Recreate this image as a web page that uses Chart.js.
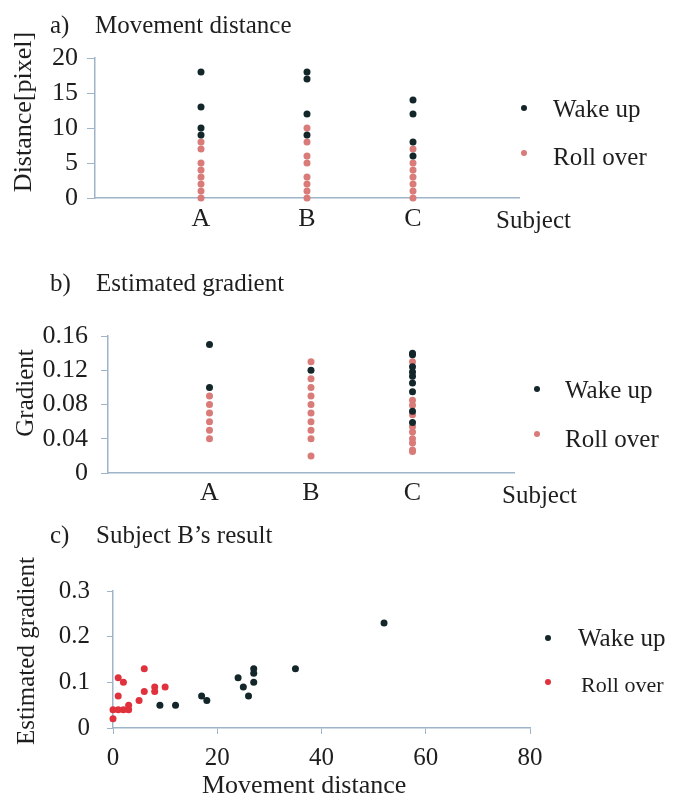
<!DOCTYPE html>
<html>
<head>
<meta charset="utf-8">
<script src="https://cdn.jsdelivr.net/npm/chart.js@4"></script>
<style>
  html, body { margin: 0; padding: 0; background: #fff; }
  #page { position: relative; width: 679px; height: 794px; overflow: hidden;
          font-family: "Liberation Serif", "DejaVu Serif", serif; color: #1e1e1e; }
  .cv { position: absolute; left: 0; }
  .t { position: absolute; white-space: nowrap; line-height: 1; font-size: 25px;
       transform: translateY(-50%); }
  .rot { position: absolute; white-space: nowrap; line-height: 1; font-size: 25px;
         transform: translate(-50%, -50%) rotate(-90deg); }
  .dot { position: absolute; width: 6px; height: 6px; border-radius: 50%;
         transform: translate(-50%, -50%); }
</style>
</head>
<body>
<div id="page">
  <canvas id="chartA" class="cv" style="top:0" width="679" height="240"></canvas>
  <canvas id="chartB" class="cv" style="top:250px" width="679" height="260"></canvas>
  <canvas id="chartC" class="cv" style="top:510px" width="679" height="284"></canvas>

  <!-- a) -->
  <div class="t" style="left:50px; top:24px">a)</div>
  <div class="t" style="left:95px; top:24px">Movement distance</div>
  <div class="rot" style="left:23px; top:112px; font-size:26px">Distance[pixel]</div>
  <div class="t" style="left:496px; top:219px">Subject</div>
  <div class="dot" style="left:524px; top:108px; background:#13262a"></div>
  <div class="t" style="left:553px; top:108px">Wake up</div>
  <div class="dot" style="left:524px; top:153px; background:#d97b78"></div>
  <div class="t" style="left:553px; top:156px">Roll over</div>

  <!-- b) -->
  <div class="t" style="left:50px; top:282px">b)</div>
  <div class="t" style="left:96px; top:282px">Estimated gradient</div>
  <div class="rot" style="left:24px; top:393px">Gradient</div>
  <div class="t" style="left:502px; top:494px">Subject</div>
  <div class="dot" style="left:537px; top:389px; background:#13262a"></div>
  <div class="t" style="left:565px; top:389px">Wake up</div>
  <div class="dot" style="left:537px; top:434px; background:#d97b78"></div>
  <div class="t" style="left:565px; top:438px">Roll over</div>

  <!-- c) -->
  <div class="t" style="left:50px; top:534px">c)</div>
  <div class="t" style="left:96px; top:534px">Subject B’s result</div>
  <div class="rot" style="left:25px; top:651px">Estimated gradient</div>
  <div class="t" style="left:202px; top:785px; font-size:26px">Movement distance</div>
  <div class="dot" style="left:548px; top:638px; background:#13262a"></div>
  <div class="t" style="left:578px; top:637px">Wake up</div>
  <div class="dot" style="left:548px; top:682px; background:#e0323c"></div>
  <div class="t" style="left:581px; top:685px; font-size:22px">Roll over</div>
</div>

<script>
const subjects = ["A", "B", "C"];

// a) movement distance per subject
const distWake = [
  [18, 13, 10, 9],
  [18, 17, 12, 9],
  [14, 12, 8, 6],
];
const distRoll = [
  [8, 7, 5, 4, 3, 2, 1, 0],
  [10, 8, 6, 5, 3, 2, 1, 0],
  [7, 5, 4, 3, 2, 1, 0],
];
const distTicks = [0, 5, 10, 15, 20];

// b) estimated gradient per subject
const gradWake = [
  [0.15, 0.10],
  [0.12],
  [0.14, 0.138, 0.124, 0.118, 0.113, 0.105, 0.095, 0.072, 0.059],
];
const gradRoll = [
  [0.09, 0.08, 0.07, 0.06, 0.05, 0.04],
  [0.13, 0.11, 0.10, 0.09, 0.08, 0.07, 0.06, 0.05, 0.04, 0.02],
  [0.13, 0.085, 0.079, 0.068, 0.054, 0.048, 0.04, 0.035, 0.027, 0.025],
];
const gradTicks = [0, 0.04, 0.08, 0.12, 0.16];

// c) subject B: movement distance vs estimated gradient
const wakeDist = [9, 12, 17, 18, 24, 25, 26, 27, 27, 27, 35, 52];
const wakeGrad = [0.05, 0.05, 0.07, 0.06, 0.11, 0.09, 0.07, 0.13, 0.12, 0.10, 0.13, 0.23];
const rollDist = [0, 0, 1, 1, 1, 2, 2, 3, 3, 5, 6, 6, 8, 8, 10];
const rollGrad = [0.02, 0.04, 0.11, 0.07, 0.04, 0.10, 0.04, 0.05, 0.04, 0.06, 0.13, 0.08, 0.09, 0.08, 0.09];
const bDistTicks = [0, 20, 40, 60, 80];
const bGradTicks = [0, 0.1, 0.2, 0.3];

const axisColor = "#9fb4c8";
const textColor = "#1e1e1e";
const wakeColor = "#13262a";
const rollPink = "#d97b78";
const rollRed = "#e0323c";

function byCategory(groups) {
  const pts = [];
  groups.forEach((vals, i) => vals.forEach((v) => pts.push({ x: i + 1, y: v })));
  return pts;
}

function pairs(xs, ys) {
  return xs.map((x, i) => ({ x: x, y: ys[i] }));
}

function ds(label, data, color) {
  return {
    label: label,
    data: data,
    backgroundColor: color,
    borderColor: color,
    pointRadius: 3.5,
    pointBorderWidth: 0,
    clip: false,
  };
}

function fixed(w) {
  return (scale) => { scale.width = w; };
}
function fixedH(h) {
  return (scale) => { scale.height = h; };
}

function makeChart(id, datasets, cfg) {
  const font = { family: "Liberation Serif", size: cfg.fontSize };
  return new Chart(document.getElementById(id), {
    type: "scatter",
    data: { datasets: datasets },
    options: {
      responsive: false,
      animation: false,
      layout: { padding: cfg.padding },
      plugins: { legend: { display: false }, tooltip: { enabled: false } },
      scales: {
        x: {
          type: "linear",
          min: cfg.xMin, max: cfg.xMax,
          afterFit: fixedH(cfg.xHeight),
          afterBuildTicks: (s) => { s.ticks = cfg.xTicks.map((v) => ({ value: v })); },
          border: { color: axisColor, width: 1.5 },
          grid: { display: cfg.xTickLen > 0, drawOnChartArea: false, drawTicks: cfg.xTickLen > 0,
                  tickLength: cfg.xTickLen, color: axisColor },
          ticks: { color: textColor, font: font, padding: cfg.xPad, maxRotation: 0,
                   autoSkip: false, callback: cfg.xLabel },
        },
        y: {
          min: cfg.yTicks[0], max: cfg.yTicks[cfg.yTicks.length - 1],
          afterFit: fixed(cfg.yWidth),
          afterBuildTicks: (s) => { s.ticks = cfg.yTicks.map((v) => ({ value: v })); },
          border: { color: axisColor, width: 1.5 },
          grid: { drawOnChartArea: false, tickLength: cfg.yTickLen, color: axisColor },
          ticks: { color: textColor, font: font, padding: cfg.yPad,
                   callback: (v) => String(+v.toFixed(2)) },
        },
      },
    },
  });
}

const catLabel = (v) => subjects[v - 1] || "";

makeChart("chartA", [
  ds("Wake up", byCategory(distWake), wakeColor),
  ds("Roll over", byCategory(distRoll), rollPink),
], {
  fontSize: 26,
  padding: { top: 58, right: 160, bottom: 0, left: 0 },
  xMin: 0, xMax: 4, xTicks: [1, 2, 3], xLabel: catLabel, xHeight: 42, xTickLen: 0, xPad: 6,
  yTicks: distTicks, yWidth: 95, yTickLen: 8, yPad: 9,
});

makeChart("chartB", [
  ds("Wake up", byCategory(gradWake), wakeColor),
  ds("Roll over", byCategory(gradRoll), rollPink),
], {
  fontSize: 26,
  padding: { top: 86, right: 165, bottom: 0, left: 0 },
  xMin: 0, xMax: 4, xTicks: [1, 2, 3], xLabel: catLabel, xHeight: 37, xTickLen: 0, xPad: 5,
  yTicks: gradTicks, yWidth: 108, yTickLen: 7, yPad: 13,
});

makeChart("chartC", [
  ds("Wake up", pairs(wakeDist, wakeGrad), wakeColor),
  ds("Roll over", pairs(rollDist, rollGrad), rollRed),
], {
  fontSize: 25,
  padding: { top: 81, right: 149, bottom: 0, left: 0 },
  xMin: 0, xMax: 80, xTicks: bDistTicks, xLabel: (v) => String(v), xHeight: 66, xTickLen: 6, xPad: 9,
  yTicks: bGradTicks, yWidth: 113, yTickLen: 6, yPad: 17,
});
</script>
</body>
</html>
